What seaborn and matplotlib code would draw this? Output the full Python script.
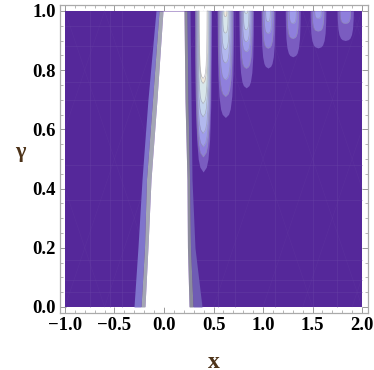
import numpy as np
import pandas as pd
import matplotlib
matplotlib.use('Agg')
import matplotlib.pyplot as plt
import seaborn as sns

sns.set_theme(style='ticks')
plt.rcParams['font.family'] = ['Liberation Serif', 'DejaVu Serif']

# central white band, edges read at these gamma values
band_gamma = [0.0, 0.2, 0.43, 0.7, 1.0]
left_outer = [-0.303, -0.263, -0.222, -0.162, -0.081]
left_mid = [-0.232, -0.197, -0.177, -0.116, -0.050]
left_white = [-0.192, -0.162, -0.131, -0.071, -0.010]
right_white = [0.253, 0.237, 0.232, 0.212, 0.202]
right_mid = [0.293, 0.268, 0.258, 0.242, 0.232]
right_outer = [0.384, 0.313, 0.283, 0.273, 0.263]

# lobes along the top edge: centre, then tip and half width of each contour level
lobe_x = [0.395, 0.62, 0.83, 1.05, 1.30, 1.555, 1.83]
lobe_tips = [
    [0.456, 0.507, 0.541, 0.586, 0.642, 0.687, 0.755, 0.772],
    [0.640, 0.711, 0.767, 0.824, 0.869, 0.925, 0.981],
    [0.740, 0.806, 0.862, 0.896, 0.936, 0.992],
    [0.807, 0.874, 0.924, 0.964],
    [0.845, 0.907, 0.958],
    [0.875, 0.932, 0.975],
    [0.900, 0.958],
]
lobe_half = [
    [0.085, 0.078, 0.070, 0.064, 0.056, 0.050, 0.044, 0.040],
    [0.084, 0.072, 0.060, 0.048, 0.038, 0.028, 0.016],
    [0.074, 0.062, 0.050, 0.038, 0.028, 0.016],
    [0.070, 0.056, 0.040, 0.024],
    [0.076, 0.058, 0.036],
    [0.080, 0.060, 0.034],
    [0.082, 0.054],
]
level_colors = ['#7a5cc0', '#8f7fdc', '#9f9cea', '#b2b8ee', '#c4d4ee',
                '#d8e6ea', '#f0eadc', '#ffffff']

# shape of a lobe from tip (0) to top edge (1)
profile_t = [0.0, 0.03, 0.08, 0.2, 0.4, 0.7, 1.0]
profile_w = [0.0, 0.38, 0.58, 0.77, 0.90, 0.97, 1.0]

# faint mesh lines in the purple background
mesh_h = [0.05, 0.09, 0.16, 0.36, 0.48, 0.70, 0.76, 0.88, 0.95]
mesh_v = [-0.75, -0.55, -0.42, 0.55, 0.72, 1.12, 1.5, 1.75]
mesh_diag = [-2.2, -1.6, -1.0, -0.6, 0.5, 1.0, 1.4, 1.9]

purple = '#55289a'
label_color = '#4d3319'

fig = plt.figure(figsize=(3.74, 3.70), dpi=100)
ax = fig.add_axes([60 / 374, 57 / 370, 308 / 374, 308.3 / 370])

ax.fill_between([-1.0, 2.0], 0.0, 1.0, color=purple, lw=0, zorder=1)

for g in mesh_h:
    ax.plot([-1.0, 2.0], [g, g], color='#6c46a8', lw=0.6, alpha=0.4, zorder=1.2)
for m in mesh_v:
    ax.plot([m, m], [0.0, 1.0], color='#6c46a8', lw=0.6, alpha=0.4, zorder=1.2)
for c in mesh_diag:
    x0, x1 = max(-1.0, c), min(2.0, c + 1.0)
    ax.plot([x0, x1], [x0 - c, x1 - c], color='#6c46a8', lw=0.5, alpha=0.2, zorder=1.2)
    ax.plot([x0, x1], [1 - (x0 - c), 1 - (x1 - c)], color='#6c46a8', lw=0.5, alpha=0.2, zorder=1.2)

# central band
ax.fill_betweenx(band_gamma, left_outer, left_mid, color='#7f74cc', lw=0, zorder=2)
ax.fill_betweenx(band_gamma, left_mid, left_white, color='#a4a6b4', lw=0, zorder=2)
ax.fill_betweenx(band_gamma, right_mid, right_outer, color='#6f5cb4', lw=0, zorder=2)
ax.fill_betweenx(band_gamma, right_white, right_mid, color='#8c8c9c', lw=0, zorder=2)
ax.fill_betweenx(band_gamma, left_white, right_white, color='white', lw=0, zorder=3)

# lobes, outermost level first
for cx, tips, halves in zip(lobe_x, lobe_tips, lobe_half):
    for k, (tip, half) in enumerate(zip(tips, halves)):
        g = tip + (1.0 - tip) * np.array(profile_t)
        w = half * np.array(profile_w)
        ax.fill_betweenx(g, cx - w, cx + w, color=level_colors[k], lw=0, zorder=3 + k * 0.1)
        if k > 0:
            outline = pd.DataFrame({'x': np.r_[(cx - w)[::-1], (cx + w)[1:]],
                                    'g': np.r_[g[::-1], g[1:]]})
            sns.lineplot(data=outline, x='x', y='g', sort=False, estimator=None,
                         color='#8f8fa0', lw=0.5, alpha=0.6, legend=False,
                         ax=ax, zorder=3.05 + k * 0.1)

ax.set_xticks([-1.0, -0.5, 0.0, 0.5, 1.0, 1.5, 2.0])
ax.set_yticks([0.0, 0.2, 0.4, 0.6, 0.8, 1.0])
ax.set_xticks(np.arange(-10, 21) / 10, minor=True)
ax.set_yticks(np.arange(0, 21) / 20, minor=True)
ax.set_xticklabels(['\u22121.0', '\u22120.5', '0.0', '0.5', '1.0', '1.5', '2.0'],
                   fontweight='bold', fontsize=13.5)
ax.set_yticklabels(['0.0', '0.2', '0.4', '0.6', '0.8', '1.0'],
                   fontweight='bold', fontsize=13.5)
ax.set_xlim(-1.05, 2.06)
ax.set_ylim(-0.0203, 1.021)
ax.tick_params(which='major', direction='in', length=4.0, width=0.7, color='#999999',
               top=True, right=True, pad=3, labelcolor='black')
ax.tick_params(which='minor', direction='in', length=2.2, width=0.5, color='#999999',
               top=True, right=True)
for s in ax.spines.values():
    s.set_color('#aaaaaa')
    s.set_linewidth(0.9)

ax.set_xlabel('x', fontweight='bold', fontsize=17, color=label_color)
ax.xaxis.set_label_coords(0.5, -0.125)
ax.set_ylabel('\u03b3', fontweight='bold', fontsize=16, color=label_color, rotation=0)
ax.yaxis.set_label_coords(-0.128, 0.49)

fig.savefig('out.png', dpi=100)
